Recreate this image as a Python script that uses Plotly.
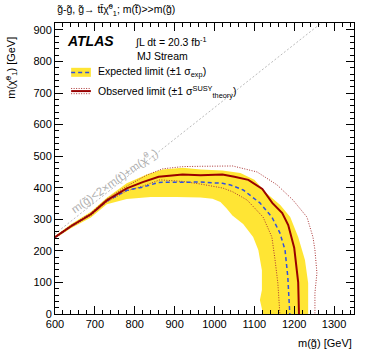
import plotly.graph_objects as go

# expected limit band (+1 sigma edge, then -1 sigma edge)
band_up_x = [600, 640, 690, 730, 780, 830, 870, 920, 965, 1020, 1065, 1100, 1130, 1165, 1190, 1210, 1227, 1235, 1235]
band_up_y = [247, 284, 324, 368, 414, 442, 458, 463, 458, 455, 447, 425, 383, 345, 307, 244, 171, 98, 0]
band_dn_x = [600, 640, 690, 730, 780, 840, 905, 965, 995, 1015, 1030, 1045, 1072, 1097, 1110, 1119, 1119, 1114, 1122]
band_dn_y = [239, 272, 306, 348, 364, 371, 371, 369, 365, 355, 335, 312, 285, 244, 203, 139, 76, 44, 0]

# expected limit
exp_x = [600, 640, 690, 730, 780, 820, 860, 920, 965, 1020, 1040, 1072, 1114, 1144, 1164, 1177, 1184, 1189]
exp_y = [243, 278, 316, 358, 392, 402, 417, 418, 418, 414, 409, 393, 352, 307, 257, 203, 117, 0]

# observed limit and theory variations
obs_x = [600, 640, 690, 730, 780, 820, 860, 920, 965, 1020, 1050, 1085, 1120, 1145, 1170, 1185, 1200, 1210, 1212]
obs_y = [243, 278, 316, 360, 398, 418, 435, 442, 440, 442, 435, 425, 396, 352, 320, 282, 210, 100, 0]
obs_up_x = [600, 640, 690, 730, 780, 830, 870, 920, 965, 1046, 1107, 1157, 1197, 1232, 1247, 1252, 1257, 1252, 1252]
obs_up_y = [245, 281, 320, 365, 405, 440, 460, 467, 468, 469, 450, 409, 361, 307, 244, 203, 130, 67, 0]
obs_dn_x = [600, 640, 690, 730, 780, 820, 863, 920, 964, 1021, 1046, 1082, 1122, 1144, 1152, 1159, 1164]
obs_dn_y = [241, 275, 312, 355, 390, 405, 425, 420, 412, 399, 387, 361, 307, 244, 171, 98, 0]

# kinematic limit m(gl) = 2 m(t) + m(chi)
kin_x = [600, 1350]
kin_y = [254, 1004]

DOT = '1px,1.5px'

fig = go.Figure()
fig.add_trace(go.Scatter(x=kin_x, y=kin_y, mode='lines',
                         line=dict(color='#bbbbbb', width=1, dash='2px,2px')))
fig.add_trace(go.Scatter(x=band_up_x + band_dn_x[::-1], y=band_up_y + band_dn_y[::-1],
                         fill='toself', fillcolor='#ffe534', mode='none'))
fig.add_trace(go.Scatter(x=obs_up_x, y=obs_up_y, mode='lines',
                         line=dict(color='#a33', width=1, dash=DOT)))
fig.add_trace(go.Scatter(x=obs_dn_x, y=obs_dn_y, mode='lines',
                         line=dict(color='#a33', width=1, dash=DOT)))
fig.add_trace(go.Scatter(x=exp_x, y=exp_y, mode='lines',
                         line=dict(color='#3050e0', width=1.5, dash='4px,3px')))
fig.add_trace(go.Scatter(x=obs_x, y=obs_y, mode='lines',
                         line=dict(color='#990000', width=2)))

ax = dict(showgrid=False, zeroline=False, showline=True, linecolor='black', linewidth=1,
          mirror='allticks', ticks='inside', ticklen=8, tickcolor='black', automargin=False,
          tickfont=dict(size=11, color='black'),
          minor=dict(ticks='inside', ticklen=4, dtick=20, tickcolor='black'))
fig.update_xaxes(ax, range=[600, 1350], dtick=100)
fig.update_yaxes(ax, range=[0, 922], dtick=100)

def txt(x, y, s, size=11, **kw):
    fig.add_annotation(x=x, y=y, xref='paper', yref='paper', text=s, showarrow=False,
                       font=dict(size=size, color=kw.pop('color', 'black')),
                       xanchor=kw.pop('xanchor', 'left'), yanchor=kw.pop('yanchor', 'middle'), **kw)

txt(0.0, 1.045, "g̃-g̃, g̃→ tt̄χ̃<sup>0</sup><sub>1</sub>; m(t̃)&gt;&gt;m(g̃)", size=10.5)
txt(0.035, 0.938, "<b><i>ATLAS</i></b>", size=14)
txt(0.262, 0.938, "∫L dt = 20.3 fb<sup>-1</sup>", size=10.5)
txt(0.268, 0.887, "MJ Stream", size=10.5)
txt(0.137, 0.832, "Expected limit (±1 σ<sub>exp</sub>)", size=10.5)
txt(0.137, 0.764, "Observed limit (±1 σ<sup>SUSY</sup><sub>theory</sub>)", size=10.5)
txt(0.2, 0.458, "m(g̃)&lt;2×m(t)+m(χ̃<sup>0</sup><sub>1</sub>)", size=11.5, color='#b0b0b0',
    xanchor='center', textangle=-35)
txt(-0.145, 0.845, "m(χ̃<sup>0</sup><sub>1</sub>) [GeV]", size=11, xanchor='center', textangle=-90)
txt(1.0, -0.1, "m(g̃) [GeV]", size=11, xanchor='right')

# legend swatches
fig.add_shape(type='rect', xref='paper', yref='paper', x0=0.054, x1=0.12, y0=0.815, y1=0.846,
              fillcolor='#ffe534', line=dict(width=0))
fig.add_shape(type='line', xref='paper', yref='paper', x0=0.054, x1=0.12, y0=0.83, y1=0.83,
              line=dict(color='#3050e0', width=1.5, dash='4px,3px'))
for yy, w, d in [(0.775, 1, DOT), (0.766, 2, 'solid'), (0.757, 1, DOT)]:
    fig.add_shape(type='line', xref='paper', yref='paper', x0=0.054, x1=0.12, y0=yy, y1=yy,
                  line=dict(color='#990000' if d == 'solid' else '#a33', width=w, dash=d))

fig.update_layout(width=374, height=361, showlegend=False,
                  margin=dict(l=55, r=20, t=23, b=47),
                  plot_bgcolor='white', paper_bgcolor='white',
                  font=dict(family='Liberation Sans, Arial, sans-serif'))
# drop the page's default body margin so the figure sits at the window's corner
fig.write_html("out.html", config={'displayModeBar': False},
               post_script="document.body.style.margin='0';")
